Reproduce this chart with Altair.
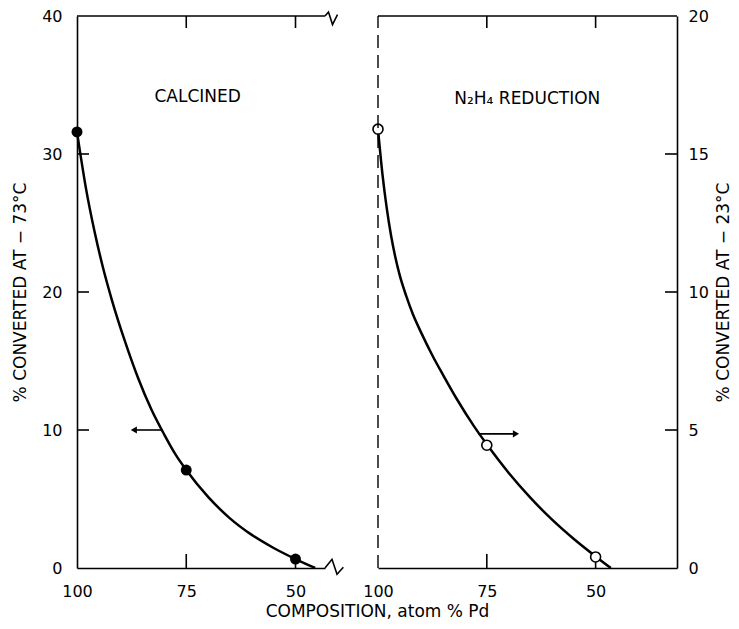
import altair as alt
import pandas as pd

FONT = "DejaVu Sans"

# ---------------- data ----------------
# left panel: calcined, % converted at -73 C
calc_pts_x = [100, 75, 50]
calc_pts_y = [31.6, 7.1, 0.65]
calc_curve_x = [100, 98, 96, 94, 92, 89, 86, 83, 80, 77.5, 75, 70, 65, 60, 55, 50, 45.5]
calc_curve_y = [31.6, 27.6, 24.4, 21.7, 19.4, 16.4, 13.75, 11.5, 9.65, 8.25, 7.1, 5.15,
                3.6, 2.4, 1.45, 0.65, 0]

# right panel: N2H4 reduction, % converted at -23 C
red_pts_x = [100, 75, 50]
red_pts_y = [15.9, 4.45, 0.4]
red_curve_x = [100, 99, 98, 97, 96, 95, 93.5, 92, 90, 87.5, 85, 82, 78, 75, 70, 65, 60,
               55, 50, 46.5]
red_curve_y = [15.9, 14.3, 13.05, 12.05, 11.25, 10.6, 9.85, 9.2, 8.5, 7.7, 6.98, 6.15,
               5.15, 4.48, 3.45, 2.55, 1.75, 1.05, 0.42, 0]

x_ticks = [100, 75, 50]
inner_x_ticks = [75, 50]
left_y_ticks = [0, 10, 20, 30, 40]
left_inner_y_ticks = [10, 20, 30]
right_y_ticks = [0, 5, 10, 15, 20]
right_inner_y_ticks = [5, 10, 15]

left_x_domain = [100, 43.25]
right_x_domain = [100, 31.3]
left_y_domain = [0, 40]
right_y_domain = [0, 20]

# arrows pointing to the relevant axis
left_arrow_x = [80.5, 87.0]
left_arrow_y = [10, 10]
right_arrow_x = [77.0, 68.3]
right_arrow_y = [4.86, 4.86]

# axis-break symbols at the right end of the left panel
top_break_x = [43.25, 42.45, 41.53, 40.39]
top_break_y = [40, 40.29, 39.38, 40.1]
bot_break_x = [43.25, 41.65, 40.5, 39.05]
bot_break_y = [0, 0.63, -0.45, 0.05]

calc_label = "CALCINED"
calc_label_xy = (72.4, 34.1)
red_label = "N\u2082H\u2084 REDUCTION"
red_label_xy = (65.7, 17.0)

left_title = "% CONVERTED AT \u2212 73\u00b0C"
right_title = "% CONVERTED AT \u2212 23\u00b0C"
x_title = "COMPOSITION, atom % Pd"

W_L, W_R, H = 248, 299, 552
# tick lengths in pixels (styles)
TICK_BOTTOM, TICK_TOP, TICK_SIDE = 14, 12, 12


def panel(curve_x, curve_y, pts_x, pts_y, x_domain, y_domain, y_ticks,
          inner_y, arrow_x, arrow_y, label, label_xy, filled, side):
    width = W_L if side == "left" else W_R
    xsc = alt.Scale(domain=x_domain, nice=False, zero=False)
    ysc = alt.Scale(domain=y_domain, nice=False, zero=False)
    x_start, x_end = x_domain
    y_bot, y_top = y_domain
    # pixel -> data unit conversions for tick lengths
    ux = (x_start - x_end) / width
    uy = (y_top - y_bot) / H

    if side == "left":
        x_axis = alt.Axis(values=x_ticks, format="d", ticks=False, grid=False,
                          labelFlush=False, labelPadding=15, labelFontSize=16,
                          domainColor="black", domainWidth=1.6,
                          title=x_title, titleFontSize=17, titleFontWeight="normal",
                          titleX=300, titleY=43, titleBaseline="middle",
                          titleAlign="center")
        y_axis = alt.Axis(values=y_ticks, format="d", ticks=False, grid=False,
                          orient="left", labelPadding=15, labelFontSize=16,
                          labelFlush=False,
                          domainColor="black", domainWidth=1.6,
                          title=left_title, titleFontSize=17, titleFontWeight="normal",
                          titleAngle=270, titleX=-57,
                          titleBaseline="middle", titleAlign="center")
    else:
        x_axis = alt.Axis(values=x_ticks, format="d", ticks=False, grid=False,
                          labelFlush=False, labelPadding=15, labelFontSize=16,
                          domainColor="black", domainWidth=1.6, title="")
        y_axis = alt.Axis(values=y_ticks, format="d", ticks=False, grid=False,
                          orient="right", labelPadding=11, labelFontSize=16,
                          labelFlush=False,
                          domainColor="black", domainWidth=1.6,
                          title=right_title, titleFontSize=17, titleFontWeight="normal",
                          titleAngle=270, titleX=46,
                          titleBaseline="middle", titleAlign="center")

    def X():
        return alt.X("x:Q", scale=xsc, axis=x_axis)

    def Y():
        return alt.Y("y:Q", scale=ysc, axis=y_axis)

    curve_df = pd.DataFrame({"x": curve_x, "y": curve_y, "o": list(range(len(curve_x)))})
    curve = alt.Chart(curve_df).mark_line(
        color="black", strokeWidth=2.5, interpolate="monotone"
    ).encode(x=X(), y=Y(), order="o:Q")

    pts_df = pd.DataFrame({"x": pts_x, "y": pts_y})
    if filled:
        pts_mark = alt.Chart(pts_df).mark_circle(size=120, color="black", opacity=1)
    else:
        pts_mark = alt.Chart(pts_df).mark_point(shape="circle", size=100, filled=True,
                                               fill="white", stroke="black",
                                               strokeWidth=1.6, opacity=1)
    pts = pts_mark.encode(x=X(), y=Y())

    # frame top line and all inward ticks, as separate two-point line segments
    segs = [((x_start, y_top), (x_end, y_top))]
    for t in inner_x_ticks:
        segs.append(((t, y_bot), (t, y_bot + TICK_BOTTOM * uy)))
        segs.append(((t, y_top), (t, y_top - TICK_TOP * uy)))
    for t in inner_y:
        if side == "left":
            segs.append(((x_start, t), (x_start - TICK_SIDE * ux, t)))
        else:
            segs.append(((x_end, t), (x_end + TICK_SIDE * ux, t)))
    seg_rows = []
    for gi, (p0, p1) in enumerate(segs):
        seg_rows.append({"g": gi, "o": 0, "x": p0[0], "y": p0[1]})
        seg_rows.append({"g": gi, "o": 1, "x": p1[0], "y": p1[1]})
    seg_df = pd.DataFrame(seg_rows)
    frame = alt.Chart(seg_df).mark_line(color="black", strokeWidth=1.6).encode(
        x=X(), y=Y(), detail="g:N", order="o:Q")

    # arrow
    arr_df = pd.DataFrame({"x": arrow_x, "y": arrow_y, "o": [0, 1]})
    arr_line = alt.Chart(arr_df).mark_line(color="black", strokeWidth=1.6).encode(
        x=X(), y=Y(), order="o:Q")
    head_df = pd.DataFrame({"x": [arrow_x[1]], "y": [arrow_y[1]]})
    head_shape = "triangle-left" if side == "left" else "triangle-right"
    arr_head = alt.Chart(head_df).mark_point(shape=head_shape, size=50, filled=True,
                                             color="black", opacity=1).encode(x=X(), y=Y())

    lab_df = pd.DataFrame({"x": [label_xy[0]], "y": [label_xy[1]], "t": [label]})
    lab = alt.Chart(lab_df).mark_text(font=FONT, fontSize=17, color="black",
                                      align="center", baseline="middle").encode(
        x=X(), y=Y(), text="t:N")

    layers = [curve, frame, arr_line, arr_head, pts, lab]

    if side == "left":
        for bx, by in ((top_break_x, top_break_y), (bot_break_x, bot_break_y)):
            bdf = pd.DataFrame({"x": bx, "y": by, "o": list(range(len(bx)))})
            layers.append(alt.Chart(bdf).mark_line(color="black", strokeWidth=1.6).encode(
                x=X(), y=Y(), order="o:Q"))
    else:
        dash_df = pd.DataFrame({"x": [x_start], "y": [y_bot], "y2": [y_top]})
        layers.append(alt.Chart(dash_df).mark_rule(color="black", strokeWidth=1.4,
                                                   strokeDash=[13, 7]).encode(
            x=X(), y=Y(), y2="y2:Q"))

    return alt.layer(*layers).properties(width=width, height=H)


left = panel(calc_curve_x, calc_curve_y, calc_pts_x, calc_pts_y, left_x_domain,
             left_y_domain, left_y_ticks, left_inner_y_ticks, left_arrow_x, left_arrow_y,
             calc_label, calc_label_xy, True, "left")
right = panel(red_curve_x, red_curve_y, red_pts_x, red_pts_y, right_x_domain,
              right_y_domain, right_y_ticks, right_inner_y_ticks, right_arrow_x,
              right_arrow_y, red_label, red_label_xy, False, "right")

chart = alt.hconcat(left, right, spacing=53, bounds="flush").resolve_scale(
    x="independent", y="independent"
).properties(
    padding={"left": 3, "top": 0, "right": 0, "bottom": 0},
    background="white",
).configure(font=FONT).configure_view(strokeWidth=0).configure_axis(
    labelColor="black", titleColor="black", labelFont=FONT, titleFont=FONT
)

chart.save("out.html", embed_options={"renderer": "svg", "actions": False})
